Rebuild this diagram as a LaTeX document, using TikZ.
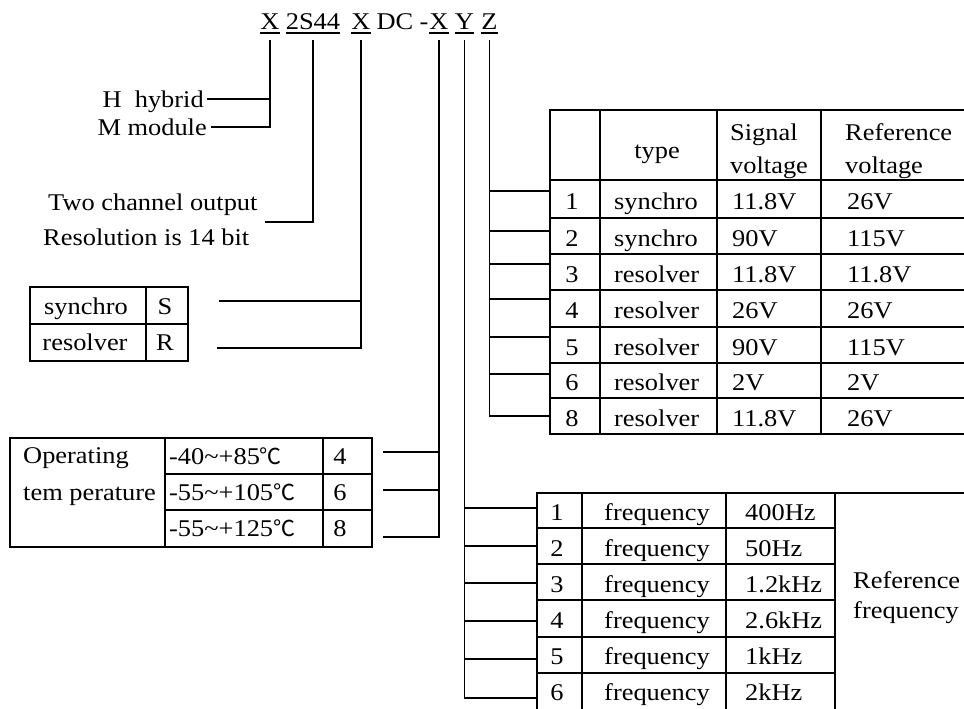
\documentclass[tikz,border=0pt]{standalone}
\usepackage{fontspec}
\setmainfont[FakeStretch=1.1]{Liberation Serif}
\newfontfamily\cjk{Noto Sans CJK SC}
\newcommand{\degc}{{\cjk\fontsize{22}{24}\selectfont ℃}}
\begin{document}
\begin{tikzpicture}[x=1pt,y=-1pt,
  every node/.style={inner sep=0pt, text height=16pt, text depth=0pt, font=\fontsize{24}{28}\selectfont},
  grid/.style={line width=1.6pt, line cap=rect},
  conn/.style={line width=1.6pt},
  uline/.style={line width=1.3pt}]
\fill[white] (0,0) rectangle (964,709);
\useasboundingbox (0,0) rectangle (964,709);

% ---------- title ----------
\node[anchor=base] (tA) at (270,30) {X};
\node[anchor=base] (tB) at (313,30) {2S44};
\node[anchor=base] (tC) at (361,30) {X};
\node[anchor=base] (tD) at (395,30) {DC};
\node[anchor=base] (tE) at (424,30) {-};
\node[anchor=base] (tF) at (439,30) {X};
\node[anchor=base] (tG) at (464.5,30) {Y};
\node[anchor=base] (tH) at (489.5,30) {Z};
\foreach \n in {tA,tB,tC,tF,tG,tH}
  \draw[uline] ([yshift=-3pt]\n.base west) -- ([yshift=-3pt]\n.base east);
\coordinate (tAb) at ([yshift=-10pt]tA.south);
\coordinate (tBb) at ([yshift=-10pt]tB.south);
\coordinate (tCb) at ([yshift=-10pt]tC.south);
\coordinate (tFb) at ([yshift=-10pt]tF.south);
\coordinate (tGb) at ([yshift=-10pt]tG.south);
\coordinate (tHb) at ([yshift=-10pt]tH.south);

% ---------- hybrid / module ----------
\node[anchor=east] (hyb) at (204,99) {H\ \ hybrid};
\node[anchor=east] (modl) at (207,127) {M module};
\draw[conn] ([xshift=3pt]hyb.east) -- (hyb.east -| tA);
\draw[conn] ([xshift=4pt]modl.east) -| (tAb);

% ---------- channel / resolution ----------
\node[anchor=west] (two) at (48,202) {Two channel output};
\node[anchor=west] (reso) at (43,237) {Resolution is 14 bit};
\coordinate (c2) at (265,222);
\draw[conn] (c2) -| (tBb);

% ---------- synchro / resolver ----------
\draw[grid] (30,287) rectangle (188,361);
\draw[grid] (30,324) -- (188,324);
\draw[grid] (146,287) -- (146,361);
\node (sy) at (86,306) {synchro};
\node (sS) at (165,306) {S};
\node (rs) at (85,342) {resolver};
\node (sR) at (165,342) {R};
\coordinate (cS) at (219,301);
\coordinate (cR) at (217,348);
\draw[conn] (cS) -- (cS -| tC);
\draw[conn] (cR) -| (tCb);

% ---------- temperature ----------
\draw[grid] (10,438) rectangle (372,547);
\draw[grid] (165,438) -- (165,547);
\draw[grid] (323,438) -- (323,547);
\draw[grid] (165,474) -- (372,474);
\draw[grid] (165,510) -- (372,510);
\node[anchor=west] (op1) at (23,455) {Operating};
\node[anchor=west] (op2) at (23,492) {tem perature};
\node[anchor=west] (tv1) at (169,456) {-40\textasciitilde+85\degc};
\node[anchor=west] (tv2) at (169,492) {-55\textasciitilde+105\degc};
\node[anchor=west] (tv3) at (169,528) {-55\textasciitilde+125\degc};
\node (tn1) at (340,456) {4};
\node (tn2) at (340,492) {6};
\node (tn3) at (340,528) {8};
\coordinate (cT1) at (383,452);
\coordinate (cT2) at (383,490);
\coordinate (cT3) at (383,537);
\draw[conn] (cT1) -- (cT1 -| tF);
\draw[conn] (cT2) -- (cT2 -| tF);
\draw[conn] (cT3) -| (tFb);

% ---------- top right table (Z) ----------
\foreach \y in {110,180,218,254,290,327,363,398,434}
  \draw[grid] (550,\y) -- (964,\y);
\foreach \x in {550,600,717,821}
  \draw[grid] (\x,110) -- (\x,434);
\node (hty) at (657,150) {type};
\node[anchor=west] (hs1) at (730,132) {Signal};
\node[anchor=west] (hs2) at (730,165) {voltage};
\node[anchor=west] (hr1) at (845,132) {Reference};
\node[anchor=west] (hr2) at (845,165) {voltage};
\foreach \n/\t/\s/\r/\y in {1/synchro/11.8V/26V/201, 2/synchro/90V/115V/238,
    3/resolver/11.8V/11.8V/274, 4/resolver/26V/26V/310, 5/resolver/90V/115V/347,
    6/resolver/2V/2V/382, 8/resolver/11.8V/26V/418}{
  \node (zn\n) at (572,\y) {\n};
  \node[anchor=west] (zt\n) at (614,\y) {\t};
  \node[anchor=west] (zs\n) at (732,\y) {\s};
  \node[anchor=west] (zr\n) at (847,\y) {\r};
}
\foreach \i/\y in {1/191,2/231,3/264,4/299,5/337,6/374}{
  \coordinate (cZ\i) at (550,\y);
  \draw[conn] (cZ\i -| tH) -- (cZ\i);
}
\coordinate (cZ7) at (550,416);
\draw[conn] (tHb) |- (cZ7);

% ---------- frequency table (Y) ----------
\draw[grid] (537,493) -- (964,493);
\foreach \y in {528,564,600,637,673}
  \draw[grid] (537,\y) -- (835,\y);
\foreach \x in {537,582,726,835}
  \draw[grid] (\x,493) -- (\x,712);
\foreach \n/\v/\y in {1/400Hz/512, 2/50Hz/548, 3/1.2kHz/584, 4/2.6kHz/620, 5/1kHz/656, 6/2kHz/692}{
  \node (fn\n) at (557,\y) {\n};
  \node (ff\n) at (657,\y) {frequency};
  \node[anchor=west] (fv\n) at (745,\y) {\v};
}
\node[anchor=west] (rf1) at (853,580) {Reference};
\node[anchor=west] (rf2) at (853,610) {frequency};
\foreach \i/\y in {1/508,2/546,3/583,4/621,5/659}{
  \coordinate (cY\i) at (537,\y);
  \draw[conn] (cY\i -| tG) -- (cY\i);
}
\coordinate (cY6) at (537,698);
\draw[conn] (tGb) |- (cY6);
\end{tikzpicture}
\end{document}
